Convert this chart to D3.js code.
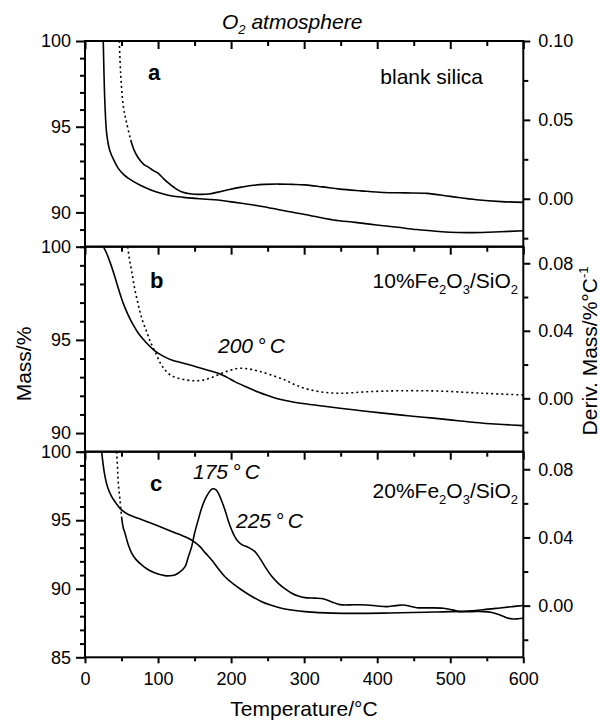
<!DOCTYPE html>
<html>
<head>
<meta charset="utf-8">
<script src="https://cdn.jsdelivr.net/npm/d3@7"></script>
<style>
  html, body { margin: 0; padding: 0; background: #fff; }
  svg { display: block; font-family: "Liberation Sans", Arial, sans-serif; }
</style>
</head>
<body>
<svg id="chart" width="600" height="721"></svg>
<script>
// Temperature ticks (shared by the three panels)
const xTicks = [0, 100, 200, 300, 400, 500, 600];
const xMinorTicks = [50, 150, 250, 350, 450, 550];

// Panel a: blank silica
const aMassTemp = [25, 26, 27.4, 29.7, 34, 40.6, 45.6, 52, 59, 75, 91, 105, 119, 135, 150.6, 166, 182, 198, 214, 235, 255.5, 278, 301, 340, 370, 399, 428, 454, 477, 500, 531, 568, 600];
const aMass = [100, 98.1, 96.2, 94.6, 93.6, 92.96, 92.57, 92.25, 92.0, 91.6, 91.3, 91.1, 90.96, 90.88, 90.82, 90.77, 90.72, 90.63, 90.53, 90.4, 90.24, 90.05, 89.88, 89.56, 89.42, 89.27, 89.13, 89.0, 88.92, 88.84, 88.82, 88.87, 88.93];
const aDerivDotTemp = [47, 48.8, 52.5, 57, 62.5];
const aDerivDot = [0.10, 0.0796, 0.0584, 0.048, 0.0373];
const aDerivTemp = [62.5, 68, 73, 80, 86.7, 93, 100, 107, 114, 123, 132, 146, 158, 169, 182, 196, 212, 228, 246, 265, 283, 301, 325, 349, 378, 408, 438, 468, 500, 536, 570, 600];
const aDeriv = [0.0373, 0.030, 0.0258, 0.022, 0.020, 0.018, 0.0163, 0.013, 0.010, 0.0068, 0.0045, 0.003, 0.0028, 0.003, 0.0042, 0.0057, 0.0072, 0.0084, 0.0091, 0.0093, 0.0091, 0.0088, 0.0075, 0.0061, 0.005, 0.004, 0.0037, 0.0034, 0.0015, -0.0006, -0.0018, -0.0023];

// Panel b: 10%Fe2O3/SiO2
const bMassTemp = [25, 29, 34, 40, 45.6, 52, 59, 66, 73, 84, 96, 107, 118.6, 135, 150.6, 166, 182.5, 194, 205, 221, 237, 251, 265, 283, 301, 325, 349, 378, 408, 442, 477, 511, 545, 572, 600];
const bMass = [100, 99.7, 99.2, 98.5, 97.77, 97.0, 96.34, 95.8, 95.36, 94.85, 94.4, 94.13, 93.92, 93.75, 93.57, 93.4, 93.21, 93.0, 92.76, 92.47, 92.2, 92.0, 91.83, 91.68, 91.57, 91.45, 91.33, 91.2, 91.07, 90.93, 90.8, 90.66, 90.53, 90.46, 90.4];
const bDerivTemp = [58.4, 61, 64, 68, 73, 78, 84.3, 90, 96, 103, 109.5, 118, 127.7, 140, 150.6, 162, 173, 187, 198, 210, 223, 237, 255, 274, 288, 301, 322, 349, 386, 431, 486, 545, 600];
const bDeriv = [0.0898, 0.082, 0.075, 0.065, 0.0553, 0.047, 0.0395, 0.033, 0.0276, 0.021, 0.0168, 0.0135, 0.0119, 0.0108, 0.0104, 0.0108, 0.0122, 0.0148, 0.0165, 0.0178, 0.0175, 0.0162, 0.0138, 0.0108, 0.008, 0.0059, 0.0039, 0.003, 0.0039, 0.0045, 0.0043, 0.003, 0.002];

// Panel c: 20%Fe2O3/SiO2
const cMassTemp = [22.8, 25, 27.4, 31, 36.5, 43, 50, 60, 73, 87, 100.4, 112, 123, 132, 141.5, 150, 157.4, 165, 173.4, 182, 191.6, 203, 214.5, 228, 241.9, 255, 269, 285, 301, 340, 408, 477, 522.5, 545, 568, 585, 600];
const cMass = [100, 99.0, 98.18, 97.4, 96.72, 96.2, 95.75, 95.4, 95.14, 94.86, 94.58, 94.33, 94.09, 93.9, 93.68, 93.4, 93.07, 92.6, 92.1, 91.5, 90.88, 90.35, 89.91, 89.45, 89.06, 88.8, 88.58, 88.43, 88.33, 88.22, 88.22, 88.3, 88.37, 88.47, 88.6, 88.7, 88.78];
const cDerivDotTemp = [43.4, 44.5, 45.6, 47.9, 50];
const cDerivDot = [0.0903, 0.081, 0.0718, 0.062, 0.0522];
const cDerivTemp = [50, 52.5, 54.8, 59, 64, 70, 77.6, 84, 91.3, 100, 109.5, 116, 123, 130, 137, 141, 146, 150, 155, 159.5, 164, 169, 173.4, 175.6, 179, 182.5, 187, 191.6, 196, 200.8, 205, 209.9, 216, 223.6, 232.7, 239, 246.4, 255, 264.6, 274, 283, 292, 301, 315, 326, 338, 349, 368, 386, 400, 413, 425, 436, 445, 454, 472, 490.5, 503, 513, 530, 545, 557, 568, 578, 586, 593, 600];
const cDeriv = [0.0522, 0.0454, 0.0425, 0.036, 0.0307, 0.027, 0.0239, 0.0218, 0.020, 0.0186, 0.0176, 0.0175, 0.018, 0.0198, 0.0229, 0.028, 0.0346, 0.0425, 0.0503, 0.057, 0.062, 0.066, 0.0683, 0.0686, 0.0681, 0.066, 0.0615, 0.0561, 0.050, 0.0444, 0.0405, 0.0375, 0.0355, 0.0342, 0.0317, 0.028, 0.0229, 0.0175, 0.0131, 0.0098, 0.0073, 0.0056, 0.0047, 0.0044, 0.0040, 0.0022, 0.0006, 0.0005, 0.0004, -0.0002, -0.0006, 0.0, 0.0004, -0.0004, -0.0012, -0.0013, -0.0015, -0.0025, -0.0035, -0.0035, -0.0035, -0.004, -0.0055, -0.0072, -0.0078, -0.0077, -0.0074];

// Axis tick values per panel
const aMassTicks = [90, 95, 100];
const bMassTicks = [90, 95, 100];
const cMassTicks = [85, 90, 95, 100];
const aDerivTicks = [0.00, 0.05, 0.10];
const aDerivMinor = [-0.025, 0.025, 0.075];
const bcDerivTicks = [0.00, 0.04, 0.08];
const bcDerivMinor = [-0.02, 0.02, 0.06];

const zip = (ts, vs) => ts.map((t, i) => [t, vs[i]]);

// Layout
const left = 85, right = 523.3;
const svg = d3.select('#chart');
const x = d3.scaleLinear().domain([0, 600]).range([left, right]);

const panels = [
    {
        id: 'a', top: 41, bottom: 246.7,
        massDomain: [88, 100], derivDomain: [-0.0304, 0.10],
        massTicks: aMassTicks, derivTicks: aDerivTicks, derivMinor: aDerivMinor,
        mass: zip(aMassTemp, aMass),
        derivDot: zip(aDerivDotTemp, aDerivDot),
        deriv: zip(aDerivTemp, aDeriv)
    },
    {
        id: 'b', top: 246.7, bottom: 451.7,
        massDomain: [89, 100], derivDomain: [-0.0316, 0.0898],
        massTicks: bMassTicks, derivTicks: bcDerivTicks, derivMinor: bcDerivMinor,
        mass: zip(bMassTemp, bMass),
        derivDot: zip(bDerivTemp, bDeriv),
        deriv: []
    },
    {
        id: 'c', top: 451.7, bottom: 657.3,
        massDomain: [85, 100], derivDomain: [-0.0303, 0.0903],
        massTicks: cMassTicks, derivTicks: bcDerivTicks, derivMinor: bcDerivMinor,
        mass: zip(cMassTemp, cMass),
        derivDot: zip(cDerivDotTemp, cDerivDot),
        deriv: zip(cDerivTemp, cDeriv)
    }
];

const defs = svg.append('defs');

panels.forEach(p => {
    const yM = d3.scaleLinear().domain(p.massDomain).range([p.bottom, p.top]);
    const yD = d3.scaleLinear().domain(p.derivDomain).range([p.bottom, p.top]);

    defs.append('clipPath').attr('id', 'clip-' + p.id)
        .append('rect')
        .attr('x', left).attr('y', p.top)
        .attr('width', right - left).attr('height', p.bottom - p.top);

    const g = svg.append('g');

    // x ticks on the panel top, pointing inward
    g.append('g')
        .attr('transform', `translate(0,${p.top})`)
        .call(d3.axisBottom(x).tickValues(xTicks).tickSize(8).tickSizeOuter(0).tickFormat(''));
    g.append('g')
        .attr('transform', `translate(0,${p.top})`)
        .call(d3.axisBottom(x).tickValues(xMinorTicks).tickSize(5).tickSizeOuter(0).tickFormat(''));

    // left mass axis
    const minorMass = d3.range(p.massDomain[0], p.massDomain[1] + 0.5, 1).filter(v => p.massTicks.indexOf(v) < 0);
    g.append('g')
        .attr('transform', `translate(${left},0)`)
        .call(d3.axisLeft(yM).tickValues(minorMass).tickSize(5).tickSizeOuter(0).tickFormat(''));
    g.append('g')
        .attr('class', 'lab')
        .attr('transform', `translate(${left},0)`)
        .call(d3.axisLeft(yM).tickValues(p.massTicks).tickSize(9).tickPadding(5).tickSizeOuter(0).tickFormat(d3.format('d')));

    // right derivative axis
    g.append('g')
        .attr('transform', `translate(${right},0)`)
        .call(d3.axisRight(yD).tickValues(p.derivMinor).tickSize(5).tickSizeOuter(0).tickFormat(''));
    g.append('g')
        .attr('class', 'lab')
        .attr('transform', `translate(${right},0)`)
        .call(d3.axisRight(yD).tickValues(p.derivTicks).tickSize(7).tickPadding(8).tickSizeOuter(0).tickFormat(d3.format('.2f')));

    // curves
    const plot = g.append('g').attr('clip-path', `url(#clip-${p.id})`);
    const massLine = d3.line().x(d => x(d[0])).y(d => yM(d[1])).curve(d3.curveCatmullRom.alpha(0.5));
    const derivLine = d3.line().x(d => x(d[0])).y(d => yD(d[1])).curve(d3.curveCatmullRom.alpha(0.5));

    plot.append('path').datum(p.mass)
        .attr('d', massLine)
        .attr('fill', 'none').attr('stroke', '#000').attr('stroke-width', 1.6);
    plot.append('path').datum(p.derivDot)
        .attr('d', derivLine)
        .attr('fill', 'none').attr('stroke', '#000').attr('stroke-width', 1.6)
        .attr('stroke-dasharray', '2,3');
    if (p.deriv.length) {
        plot.append('path').datum(p.deriv)
            .attr('d', derivLine)
            .attr('fill', 'none').attr('stroke', '#000').attr('stroke-width', 1.6);
    }

    // panel frame
    g.append('rect')
        .attr('x', left).attr('y', p.top)
        .attr('width', right - left).attr('height', p.bottom - p.top)
        .attr('fill', 'none').attr('stroke', '#000').attr('stroke-width', 2);
});

// bottom temperature axis
const lastPanel = panels[panels.length - 1];
svg.append('g')
    .attr('class', 'lab')
    .attr('transform', `translate(0,${lastPanel.bottom})`)
    .call(d3.axisBottom(x).tickValues(xTicks).tickSize(6).tickPadding(9).tickSizeOuter(0).tickFormat(d3.format('d')));
svg.append('g')
    .attr('transform', `translate(0,${lastPanel.bottom})`)
    .call(d3.axisBottom(x).tickValues(xMinorTicks).tickSize(4).tickSizeOuter(0).tickFormat(''));

svg.selectAll('.domain').remove();
svg.selectAll('.tick line').attr('stroke', '#000').attr('stroke-width', 2);
svg.selectAll('.lab text').attr('font-size', 18).attr('fill', '#000')
    .attr('font-family', '"Liberation Sans", Arial, sans-serif');

// texts
const txt = (xp, yp, size, opts = {}) => svg.append('text')
    .attr('x', xp).attr('y', yp)
    .attr('font-size', size)
    .attr('font-style', opts.italic ? 'italic' : null)
    .attr('font-weight', opts.bold ? 'bold' : null)
    .attr('text-anchor', opts.anchor || 'start')
    .attr('fill', '#000');

const title = txt(222, 29, 21, { italic: true });
title.append('tspan').text('O');
title.append('tspan').attr('font-size', 13).attr('dy', 5).text('2');
title.append('tspan').attr('dy', -5).text(' atmosphere');

txt(148, 80, 22, { bold: true }).text('a');
txt(150, 288, 22, { bold: true }).text('b');
txt(150, 491, 22, { bold: true }).text('c');

txt(483, 84, 21, { anchor: 'end' }).text('blank silica');

function sample(yp, pct) {
    const t = txt(518, yp, 21, { anchor: 'end' });
    t.append('tspan').text(pct + '%Fe');
    t.append('tspan').attr('font-size', 13).attr('dy', 6).text('2');
    t.append('tspan').attr('dy', -6).text('O');
    t.append('tspan').attr('font-size', 13).attr('dy', 6).text('3');
    t.append('tspan').attr('dy', -6).text('/SiO');
    t.append('tspan').attr('font-size', 13).attr('dy', 6).text('2');
}
sample(288, 10);
sample(498, 20);

txt(218, 353, 21, { italic: true }).text('200\u2009\u00b0\u2009C');
txt(193, 479, 21, { italic: true }).text('175\u2009\u00b0\u2009C');
txt(236, 528, 21, { italic: true }).text('225\u2009\u00b0\u2009C');

// axis titles
svg.append('text')
    .attr('transform', 'translate(31,364) rotate(-90)')
    .attr('text-anchor', 'middle').attr('font-size', 21)
    .text('Mass/%');

const dt = svg.append('text')
    .attr('transform', 'translate(597,351) rotate(-90)')
    .attr('text-anchor', 'middle').attr('font-size', 21);
dt.append('tspan').text('Deriv. Mass/%\u00b0C');
dt.append('tspan').attr('font-size', 13).attr('dy', -9).text('-1');

txt(304, 716, 21, { anchor: 'middle' }).text('Temperature/\u00b0C');
</script>
</body>
</html>
